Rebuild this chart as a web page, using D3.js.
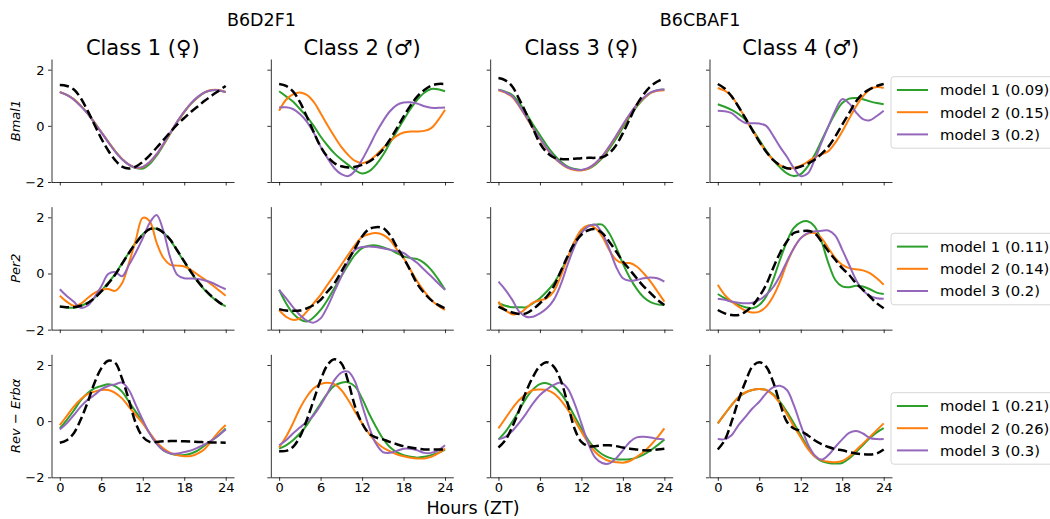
<!DOCTYPE html>
<html>
<head>
<meta charset="utf-8">
<script src="https://cdn.jsdelivr.net/npm/d3@7"></script>
<style>
  body { margin: 0; background: #fff; }
  svg { display: block; }
  text { font-family: "DejaVu Sans", sans-serif; fill: #000; }
</style>
</head>
<body>
<svg id="chart" width="1050" height="519"></svg>
<script>
// ---- data -------------------------------------------------------------
const hours = d3.range(0, 25);               // ZT 0..24, hourly
const xTicks = [0, 6, 12, 18, 24];
const yTicks = [-2, 0, 2];
const strains = ["B6D2F1", "B6CBAF1"];
const classes = ["Class 1 (\u2640)", "Class 2 (\u2642)", "Class 3 (\u2640)", "Class 4 (\u2642)"];
const genes = ["Bmal1", "Per2", "Rev-Erba"];
const modelNames = ["model 1", "model 2", "model 3"];
const bmal1Errors = ["0.09", "0.15", "0.2"];
const per2Errors = ["0.11", "0.14", "0.2"];
const revErbErrors = ["0.21", "0.26", "0.3"];

// Bmal1
const bmal1C1Model1 = [1.2,1.1,0.95,0.72,0.45,0.12,-0.22,-0.57,-0.9,-1.18,-1.39,-1.5,-1.52,-1.36,-1.06,-0.68,-0.27,0.13,0.49,0.79,1.02,1.19,1.27,1.27,1.2];
const bmal1C1Model2 = [1.21,1.1,0.95,0.72,0.45,0.12,-0.22,-0.57,-0.9,-1.18,-1.38,-1.49,-1.47,-1.3,-1.02,-0.65,-0.25,0.15,0.5,0.8,1.03,1.2,1.28,1.28,1.21];
const bmal1C1Model3 = [1.2,1.1,0.94,0.71,0.44,0.11,-0.23,-0.58,-0.91,-1.19,-1.38,-1.49,-1.46,-1.29,-1.01,-0.64,-0.24,0.16,0.51,0.81,1.04,1.2,1.27,1.27,1.2];
const bmal1C1Obs    = [1.45,1.42,1.3,1.0,0.55,0.05,-0.45,-0.88,-1.22,-1.45,-1.52,-1.45,-1.28,-1.05,-0.78,-0.5,-0.22,0.05,0.28,0.5,0.7,0.9,1.08,1.25,1.42];

const bmal1C2Model1 = [1.23,1.05,0.87,0.6,0.33,0.0,-0.38,-0.7,-0.98,-1.2,-1.39,-1.58,-1.7,-1.62,-1.39,-1.05,-0.62,-0.2,0.21,0.6,0.93,1.18,1.31,1.3,1.23];
const bmal1C2Model2 = [0.54,0.93,1.12,1.19,1.1,0.85,0.45,0.02,-0.38,-0.75,-1.04,-1.25,-1.33,-1.25,-1.05,-0.8,-0.56,-0.36,-0.24,-0.2,-0.2,-0.18,-0.08,0.2,0.57];
const bmal1C2Model3 = [0.65,0.66,0.6,0.42,0.15,-0.25,-0.74,-1.15,-1.51,-1.72,-1.79,-1.6,-1.21,-0.75,-0.26,0.16,0.51,0.74,0.83,0.84,0.79,0.7,0.64,0.64,0.65];
const bmal1C2Obs    = [1.49,1.42,1.23,0.85,0.33,-0.22,-0.74,-1.1,-1.33,-1.44,-1.48,-1.46,-1.39,-1.28,-1.1,-0.85,-0.5,-0.1,0.33,0.72,1.05,1.28,1.43,1.49,1.49];

const bmal1C3Model1 = [1.29,1.22,1.1,0.82,0.45,0.05,-0.33,-0.7,-1.02,-1.27,-1.45,-1.54,-1.57,-1.53,-1.38,-1.15,-0.83,-0.46,-0.06,0.33,0.68,0.96,1.17,1.27,1.29];
const bmal1C3Model2 = [1.27,1.18,1.03,0.7,0.31,-0.09,-0.46,-0.82,-1.12,-1.34,-1.5,-1.57,-1.59,-1.52,-1.35,-1.1,-0.76,-0.38,0.02,0.4,0.73,0.98,1.17,1.25,1.27];
const bmal1C3Model3 = [1.29,1.2,1.05,0.72,0.33,-0.07,-0.44,-0.8,-1.1,-1.32,-1.48,-1.55,-1.57,-1.5,-1.33,-1.08,-0.74,-0.36,0.04,0.42,0.75,1.0,1.19,1.27,1.29];
const bmal1C3Obs    = [1.7,1.62,1.4,0.95,0.45,-0.1,-0.62,-0.95,-1.12,-1.18,-1.19,-1.17,-1.15,-1.14,-1.14,-1.12,-0.98,-0.7,-0.26,0.25,0.75,1.12,1.4,1.58,1.7];

const bmal1C4Model1 = [0.77,0.68,0.57,0.42,0.21,-0.12,-0.5,-0.88,-1.21,-1.48,-1.69,-1.79,-1.72,-1.45,-1.04,-0.53,-0.02,0.45,0.81,0.97,0.99,0.95,0.87,0.81,0.77];
const bmal1C4Model2 = [1.35,1.25,1.05,0.68,0.27,-0.15,-0.56,-0.92,-1.21,-1.4,-1.51,-1.5,-1.42,-1.28,-1.12,-1.02,-0.9,-0.6,-0.2,0.25,0.69,1.05,1.3,1.38,1.35];
const bmal1C4Model3 = [0.54,0.52,0.45,0.25,0.1,0.09,0.08,0.0,-0.35,-0.75,-1.1,-1.5,-1.79,-1.7,-1.21,-0.6,-0.02,0.55,0.95,0.8,0.48,0.24,0.2,0.35,0.54];
const bmal1C4Obs    = [1.49,1.33,1.05,0.68,0.27,-0.15,-0.56,-0.92,-1.21,-1.4,-1.51,-1.52,-1.45,-1.35,-1.21,-1.0,-0.74,-0.38,0.04,0.45,0.87,1.15,1.31,1.42,1.49];

// Per2
const per2C1Model1 = [-1.17,-1.21,-1.22,-1.16,-1.05,-0.87,-0.62,-0.33,-0.02,0.36,0.74,1.1,1.4,1.58,1.59,1.45,1.18,0.8,0.41,0.03,-0.31,-0.6,-0.84,-1.03,-1.17];
const per2C1Model2 = [-0.79,-1.0,-1.15,-1.08,-0.88,-0.7,-0.58,-0.55,-0.62,-0.35,0.37,1.2,1.98,1.86,1.1,0.55,0.31,0.28,0.25,0.12,-0.05,-0.22,-0.4,-0.6,-0.79];
const per2C1Model3 = [-0.56,-0.8,-1.0,-1.22,-1.15,-0.85,-0.46,-0.02,0.05,-0.1,0.3,0.75,1.25,1.8,2.08,1.5,0.55,-0.05,-0.17,-0.18,-0.2,-0.25,-0.33,-0.45,-0.56];
const per2C1Obs    = [-1.18,-1.2,-1.2,-1.15,-1.06,-0.88,-0.64,-0.36,-0.05,0.34,0.73,1.08,1.38,1.58,1.6,1.45,1.2,0.82,0.43,0.05,-0.29,-0.58,-0.82,-1.02,-1.18];

const per2C2Model1 = [-0.58,-1.06,-1.42,-1.63,-1.71,-1.56,-1.3,-0.94,-0.52,-0.1,0.31,0.67,0.9,0.99,1.0,0.94,0.85,0.73,0.61,0.55,0.51,0.37,0.13,-0.2,-0.58];
const per2C2Model2 = [-1.3,-1.54,-1.65,-1.6,-1.36,-1.06,-0.76,-0.4,-0.05,0.31,0.67,1.02,1.3,1.4,1.44,1.38,1.2,0.87,0.55,0.13,-0.29,-0.64,-0.94,-1.15,-1.3];
const per2C2Model3 = [-0.58,-0.88,-1.2,-1.48,-1.68,-1.75,-1.6,-1.18,-0.64,-0.1,0.43,0.85,0.94,0.96,0.94,0.9,0.85,0.79,0.73,0.55,0.37,0.13,-0.1,-0.35,-0.58];
const per2C2Obs    = [-1.27,-1.32,-1.33,-1.32,-1.24,-1.12,-0.94,-0.64,-0.35,0.07,0.49,0.9,1.32,1.58,1.65,1.62,1.38,0.96,0.55,0.1,-0.38,-0.7,-0.95,-1.12,-1.24];

const per2C3Model1 = [-1.06,-1.15,-1.2,-1.2,-1.2,-1.06,-0.88,-0.64,-0.35,0.07,0.55,1.08,1.5,1.7,1.74,1.74,1.44,0.95,0.35,-0.15,-0.55,-0.85,-1.02,-1.1,-1.12];
const per2C3Model2 = [-1.0,-1.3,-1.45,-1.42,-1.24,-1.04,-0.96,-0.88,-0.64,-0.1,0.55,1.14,1.56,1.71,1.62,1.32,0.85,0.49,0.37,0.37,0.25,0.01,-0.29,-0.64,-1.0];
const per2C3Model3 = [-0.29,-0.58,-0.94,-1.36,-1.54,-1.54,-1.42,-1.24,-0.94,-0.4,0.31,0.96,1.44,1.68,1.74,1.44,0.9,0.25,-0.17,-0.26,-0.23,-0.17,-0.14,-0.17,-0.29];
const per2C3Obs    = [-1.18,-1.3,-1.39,-1.44,-1.42,-1.27,-1.06,-0.82,-0.46,0.07,0.61,1.08,1.38,1.54,1.58,1.44,1.14,0.79,0.43,0.13,-0.17,-0.46,-0.7,-0.94,-1.12];

const per2C4Model1 = [-0.73,-0.88,-1.0,-1.12,-1.2,-1.24,-1.12,-0.82,-0.23,0.49,1.14,1.62,1.82,1.86,1.68,1.14,0.37,-0.23,-0.46,-0.49,-0.44,-0.46,-0.56,-0.68,-0.73];
const per2C4Model2 = [-0.4,-0.76,-1.0,-1.18,-1.32,-1.39,-1.36,-1.18,-0.82,-0.29,0.37,0.9,1.26,1.42,1.44,1.26,0.9,0.55,0.31,0.19,0.15,0.11,0.01,-0.17,-0.4];
const per2C4Model3 = [-0.9,-0.94,-1.0,-1.04,-1.06,-1.04,-0.94,-0.76,-0.49,-0.08,0.43,0.9,1.26,1.44,1.5,1.52,1.53,1.35,0.85,0.31,-0.23,-0.6,-0.8,-0.88,-0.9];
const per2C4Obs    = [-1.3,-1.42,-1.48,-1.48,-1.36,-1.15,-0.82,-0.4,0.19,0.73,1.14,1.44,1.5,1.52,1.44,1.14,0.79,0.49,0.19,-0.05,-0.35,-0.58,-0.82,-1.06,-1.24];

// Rev-Erb alpha
const revErbC1Model1 = [-0.26,0.04,0.37,0.73,0.99,1.17,1.25,1.31,1.25,1.05,0.69,0.33,-0.02,-0.44,-0.8,-1.04,-1.15,-1.21,-1.21,-1.15,-1.04,-0.86,-0.68,-0.5,-0.26];
const revErbC1Model2 = [-0.14,0.18,0.51,0.77,0.96,1.05,1.11,1.11,1.01,0.81,0.51,0.21,-0.08,-0.42,-0.74,-0.98,-1.13,-1.21,-1.25,-1.24,-1.15,-0.98,-0.68,-0.38,-0.14];
const revErbC1Model3 = [-0.3,-0.08,0.21,0.51,0.75,0.93,1.13,1.25,1.31,1.37,1.11,0.57,0.04,-0.44,-0.8,-1.04,-1.15,-1.15,-1.1,-1.04,-0.94,-0.82,-0.68,-0.5,-0.3];
const revErbC1Obs    = [-0.77,-0.68,-0.44,0.04,0.65,1.35,1.88,2.15,2.08,1.52,0.75,-0.08,-0.56,-0.74,-0.74,-0.72,-0.71,-0.71,-0.72,-0.73,-0.74,-0.75,-0.76,-0.76,-0.77];

const revErbC2Model1 = [-0.98,-0.86,-0.68,-0.44,-0.14,0.25,0.63,0.99,1.26,1.37,1.38,1.23,0.81,0.27,-0.2,-0.62,-0.92,-1.1,-1.21,-1.27,-1.3,-1.27,-1.21,-1.13,-1.01];
const revErbC2Model2 = [-0.94,-0.56,-0.08,0.45,0.87,1.17,1.32,1.37,1.32,1.11,0.75,0.33,-0.08,-0.44,-0.74,-0.94,-1.07,-1.18,-1.25,-1.3,-1.33,-1.33,-1.27,-1.15,-0.98];
const revErbC2Model3 = [-0.86,-0.68,-0.44,-0.23,-0.02,0.21,0.57,0.99,1.46,1.73,1.76,1.4,0.57,-0.2,-0.8,-1.1,-1.13,-1.06,-0.98,-0.98,-1.04,-1.13,-1.13,-1.04,-0.86];
const revErbC2Obs    = [-1.07,-1.06,-0.92,-0.56,0.04,0.75,1.46,2.0,2.2,2.06,1.4,0.51,-0.08,-0.44,-0.58,-0.65,-0.74,-0.82,-0.89,-0.94,-0.98,-1.01,-1.01,-1.01,-1.01];

const revErbC3Model1 = [-0.65,-0.38,-0.02,0.39,0.81,1.13,1.32,1.35,1.23,0.99,0.63,0.18,-0.26,-0.68,-0.98,-1.18,-1.3,-1.36,-1.37,-1.36,-1.3,-1.19,-1.04,-0.86,-0.65];
const revErbC3Model2 = [-0.26,0.1,0.45,0.75,0.96,1.11,1.13,1.11,0.99,0.75,0.42,0.04,-0.38,-0.77,-1.1,-1.3,-1.42,-1.46,-1.48,-1.42,-1.27,-1.1,-0.86,-0.58,-0.26];
const revErbC3Model3 = [-0.65,-0.56,-0.35,-0.06,0.27,0.63,0.93,1.13,1.29,1.37,1.17,0.63,-0.08,-0.8,-1.3,-1.49,-1.51,-1.33,-1.04,-0.74,-0.58,-0.56,-0.58,-0.63,-0.65];
const revErbC3Obs    = [-0.94,-0.68,-0.2,0.39,1.05,1.58,1.96,2.1,1.94,1.46,0.63,-0.26,-0.74,-0.89,-0.89,-0.86,-0.86,-0.89,-0.94,-0.98,-1.01,-1.04,-1.04,-1.01,-0.98];

const revErbC4Model1 = [-0.08,0.25,0.57,0.85,1.02,1.11,1.14,1.11,0.96,0.69,0.33,-0.08,-0.5,-0.92,-1.25,-1.42,-1.49,-1.51,-1.49,-1.33,-1.1,-0.85,-0.6,-0.4,-0.25];
const revErbC4Model2 = [-0.08,0.25,0.57,0.85,1.02,1.11,1.14,1.11,0.93,0.63,0.25,-0.18,-0.58,-0.98,-1.25,-1.39,-1.45,-1.46,-1.42,-1.27,-1.04,-0.8,-0.56,-0.32,-0.08];
const revErbC4Model3 = [-0.64,-0.64,-0.5,-0.14,0.15,0.45,0.69,0.99,1.2,1.26,1.11,0.57,-0.14,-0.8,-1.21,-1.37,-1.21,-0.92,-0.65,-0.42,-0.35,-0.44,-0.6,-0.64,-0.64];
const revErbC4Obs    = [-1.01,-0.68,-0.02,0.75,1.4,1.94,2.1,1.94,1.4,0.63,-0.02,-0.26,-0.35,-0.5,-0.68,-0.82,-0.92,-1.0,-1.04,-1.1,-1.15,-1.18,-1.19,-1.15,-1.01];

// rows = genes, columns = classes; each cell: [model 1, model 2, model 3, observed]
const panels = [
  [[bmal1C1Model1, bmal1C1Model2, bmal1C1Model3, bmal1C1Obs],
   [bmal1C2Model1, bmal1C2Model2, bmal1C2Model3, bmal1C2Obs],
   [bmal1C3Model1, bmal1C3Model2, bmal1C3Model3, bmal1C3Obs],
   [bmal1C4Model1, bmal1C4Model2, bmal1C4Model3, bmal1C4Obs]],
  [[per2C1Model1, per2C1Model2, per2C1Model3, per2C1Obs],
   [per2C2Model1, per2C2Model2, per2C2Model3, per2C2Obs],
   [per2C3Model1, per2C3Model2, per2C3Model3, per2C3Obs],
   [per2C4Model1, per2C4Model2, per2C4Model3, per2C4Obs]],
  [[revErbC1Model1, revErbC1Model2, revErbC1Model3, revErbC1Obs],
   [revErbC2Model1, revErbC2Model2, revErbC2Model3, revErbC2Obs],
   [revErbC3Model1, revErbC3Model2, revErbC3Model3, revErbC3Obs],
   [revErbC4Model1, revErbC4Model2, revErbC4Model3, revErbC4Obs]]
];
const legendErrors = [bmal1Errors, per2Errors, revErbErrors];

// ---- layout -----------------------------------------------------------
const panelW = 182.5, panelH = 123;
const colX = c => 51.5 + 219.33 * c;
const rowY = r => 59 + 147.65 * r;
const legendTop = [76.7, 233.3, 392.7];
const modelColors = ["#2ca02c", "#ff7f0e", "#9467bd"];

const svg = d3.select("#chart");

const x = d3.scaleLinear().domain([-1.2, 25.2]).range([0, panelW]);
const y = d3.scaleLinear().domain([-2, 2.38]).range([panelH, 0]);

const line = d3.line()
  .x((d, i) => x(hours[i]))
  .y(d => y(d))
  .curve(d3.curveCatmullRom.alpha(0.5));

panels.forEach((row, r) => {
  row.forEach((series, c) => {
    const g = svg.append("g").attr("transform", `translate(${colX(c)},${rowY(r)})`);

    // axes (left + bottom spines only)
    const xAxis = d3.axisBottom(x).tickValues(xTicks).tickSize(3.5).tickSizeOuter(0).tickPadding(3.5)
      .tickFormat(r === panels.length - 1 ? d3.format("d") : () => "");
    const gx = g.append("g").attr("transform", `translate(0,${panelH})`).call(xAxis);
    gx.selectAll("text").attr("font-size", 13).attr("dy", "0.6em");

    const yAxis = d3.axisLeft(y).tickValues(yTicks).tickSize(3.5).tickSizeOuter(0).tickPadding(3.5)
      .tickFormat(c === 0 ? d3.format("d") : () => "");
    const gy = g.append("g").call(yAxis);
    gy.selectAll("text").attr("font-size", 13).attr("dy", "0.34em");

    [gx, gy].forEach(a => {
      a.attr("font-family", null);
      a.select(".domain").attr("stroke", "#000").attr("stroke-width", 0.8);
      a.selectAll(".tick line").attr("stroke", "#000").attr("stroke-width", 0.8);
    });

    // model curves, then observed profile on top
    series.slice(0, 3).forEach((vals, k) => {
      g.append("path").datum(vals)
        .attr("d", line)
        .attr("fill", "none")
        .attr("stroke", modelColors[k])
        .attr("stroke-width", 2);
    });
    g.append("path").datum(series[3])
      .attr("d", line)
      .attr("fill", "none")
      .attr("stroke", "#000")
      .attr("stroke-width", 2.5)
      .attr("stroke-dasharray", "9.25,4");
  });
});

// column titles
classes.forEach((t, c) => {
  svg.append("text")
    .attr("x", colX(c) + panelW / 2)
    .attr("y", 55)
    .attr("text-anchor", "middle")
    .attr("font-size", 21)
    .text(t);
});

// strain headers, each spanning two columns
strains.forEach((s, i) => {
  svg.append("text")
    .attr("x", (colX(2 * i) + colX(2 * i + 1) + panelW) / 2 + 9)
    .attr("y", 26)
    .attr("text-anchor", "middle")
    .attr("font-size", 17.5)
    .text(s);
});

// gene labels on the left
genes.forEach((gname, r) => {
  const t = svg.append("text")
    .attr("transform", `translate(20,${rowY(r) + panelH / 2}) rotate(-90)`)
    .attr("text-anchor", "middle")
    .attr("font-size", 13);
  if (gname === "Rev-Erba") {
    t.append("tspan").attr("font-style", "italic").text("Rev");
    t.append("tspan").text(" \u2212 ");
    t.append("tspan").attr("font-style", "italic").text("Erb\u03b1");
  } else {
    t.attr("font-style", "italic").text(gname);
  }
});

// shared x label
svg.append("text")
  .attr("x", 473)
  .attr("y", 514)
  .attr("text-anchor", "middle")
  .attr("font-size", 17.5)
  .text("Hours (ZT)");

// legends, one per gene row
legendErrors.forEach((errs, r) => {
  const lg = svg.append("g").attr("transform", `translate(891,${legendTop[r]})`);
  lg.append("rect")
    .attr("x", 0).attr("y", 0)
    .attr("width", 175).attr("height", 71.5)
    .attr("rx", 3)
    .attr("fill", "#fff").attr("fill-opacity", 0.8)
    .attr("stroke", "#cccccc").attr("stroke-width", 0.8);
  modelNames.forEach((m, k) => {
    const yy = 13.3 + 22.2 * k;
    lg.append("line")
      .attr("x1", 6).attr("x2", 37)
      .attr("y1", yy).attr("y2", yy)
      .attr("stroke", modelColors[k]).attr("stroke-width", 2);
    lg.append("text")
      .attr("x", 49).attr("y", yy)
      .attr("dy", "0.36em")
      .attr("font-size", 14.8)
      .text(`${m} (${errs[k]})`);
  });
});
</script>
</body>
</html>
